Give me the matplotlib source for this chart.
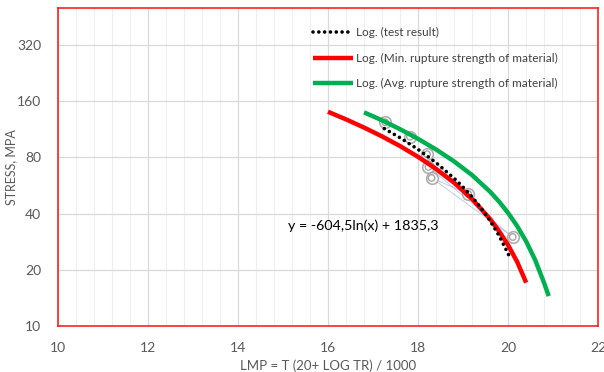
import matplotlib
matplotlib.use("Agg")
import matplotlib.pyplot as plt
from matplotlib.ticker import FixedLocator, MultipleLocator, NullFormatter

plt.rcParams['font.family'] = ['Lato', 'DejaVu Sans']

# values
test_x = [17.25, 17.6, 18.0, 18.4, 18.8, 19.0, 19.2, 19.4, 19.6, 19.8, 20.0, 20.05]
test_y = [113.8, 101.7, 88.1, 74.8, 61.8, 55.4, 49.1, 42.8, 36.6, 30.4, 24.4, 22.9]

min_x = [16.0, 16.4, 16.8, 17.2, 17.6, 18.0, 18.4, 18.8, 19.2, 19.6, 19.8, 20.0, 20.2, 20.4]
min_y = [140, 127.5, 115.3, 103.4, 91.8, 80.4, 69.3, 58.5, 47.8, 37.4, 32.2, 27.1, 22.1, 17.1]

avg_x = [16.8, 17.2, 17.6, 18.0, 18.4, 18.8, 19.2, 19.6, 19.8, 20.0, 20.2, 20.4, 20.6, 20.8, 20.9]
avg_y = [139, 126, 113, 100.3, 88, 76, 64.2, 52.3, 46.3, 40.3, 34.3, 28.4, 22.6, 17.0, 14.5]

pts_x = [17.27, 17.82, 18.20, 18.23, 18.30, 19.11, 20.10]
pts_y = [123, 103, 83, 71, 62, 51, 30]

# thin connecting lines between some of the test points
link_x = [18.20, 19.11, 18.23, 20.10, 18.30, 19.11]
link_y = [83, 51, 71, 30, 62, 51]

ytick_vals = [10, 20, 40, 80, 160, 320]
xtick_vals = [10, 12, 14, 16, 18, 20, 22]

fig = plt.figure(figsize=(6.04, 3.72), dpi=100)
ax = fig.add_axes([0.0955, 0.1228, 0.895, 0.855])

ax.set_yscale('log', base=2)
ax.set_xlim(10, 22)
ax.set_ylim(10, 500)

ax.yaxis.set_major_locator(FixedLocator(ytick_vals))
ax.set_yticklabels([str(v) for v in ytick_vals])
ax.yaxis.set_minor_locator(FixedLocator([]))
ax.yaxis.set_minor_formatter(NullFormatter())
ax.xaxis.set_major_locator(FixedLocator(xtick_vals))
ax.xaxis.set_minor_locator(MultipleLocator(0.4))

ax.grid(which='major', axis='both', color='#d9d9d9', lw=0.9)
ax.grid(which='minor', axis='x', color='#efefef', lw=0.8)
ax.set_axisbelow(True)

for s in ax.spines.values():
    s.set_color('#ff2020')
    s.set_linewidth(1.2)

ax.tick_params(which='both', length=0, colors='#595959', labelsize=10)
ax.tick_params(axis='y', pad=12)
ax.tick_params(axis='x', pad=11)

ax.plot(link_x, link_y, color='#b4c7e7', lw=0.6, zorder=2)
ax.scatter(pts_x, pts_y, s=70, facecolor='white', edgecolor='#a6a6a6', lw=1.2, zorder=3, alpha=0.9)
ax.scatter(pts_x, pts_y, s=22, facecolor='none', edgecolor='#a6a6a6', lw=1.0, zorder=3)

ax.plot(test_x, test_y, color='black', lw=2.6, linestyle=(0, (0.01, 1.6)),
        dash_capstyle='round', zorder=5, label='Log. (test result)')
ax.plot(min_x, min_y, color='#ff0000', lw=3.2, solid_capstyle='butt', zorder=4,
        label='Log. (Min. rupture strength of material)')
ax.plot(avg_x, avg_y, color='#00b050', lw=3.2, solid_capstyle='butt', zorder=4,
        label='Log. (Avg. rupture strength of material)')

ax.text(16.78, 34.4, 'y = -604,5ln(x) + 1835,3', fontsize=10.3, color='black',
        ha='center', va='center')

ax.set_ylabel('STRESS, MPA', color='#595959', fontsize=9)
ax.yaxis.set_label_coords(-0.075, 0.5)
ax.set_xlabel('LMP = T (20+ LOG TR) / 1000', color='#595959', fontsize=9.5, labelpad=4)

leg = ax.legend(loc='upper left', bbox_to_anchor=(0.452, 0.975), frameon=False,
                fontsize=8.5, handlelength=3.4, handletextpad=0.3, labelspacing=1.25,
                labelcolor='#404040')

fig.savefig('out.png', dpi=100)
